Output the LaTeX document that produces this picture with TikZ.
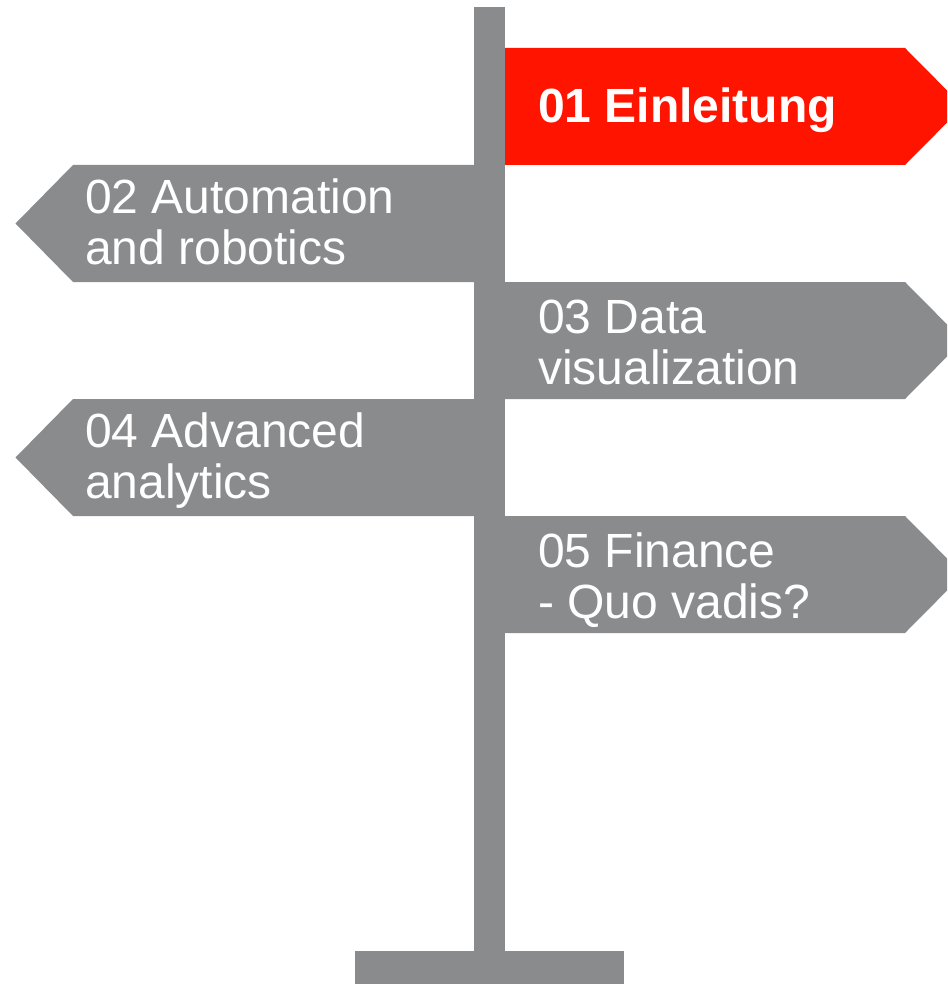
\documentclass[tikz,border=0pt]{standalone}
\usepackage{fontspec}
\setmainfont{Liberation Sans}
\definecolor{signgray}{HTML}{8A8B8D}
\definecolor{signred}{HTML}{FF1400}
\begin{document}
\begin{tikzpicture}[x=1pt,y=-1pt,
  signtext/.style={text=white, font=\fontsize{48}{51}\selectfont, align=left, inner sep=0pt, anchor=base west},
  rsign/.style={fill=signgray},
  lsign/.style={fill=signgray}]
\useasboundingbox (0,0) rectangle (947,984);
\clip (0,0) rectangle (947,984);
% post and base
\fill[signgray] (474,7) rectangle (505,952);
\fill[signgray] (355,951) rectangle (624,984);
% signs
\fill[signred] (505,48) -- (905,48) -- (963,106.5) -- (905,165) -- (505,165) -- cycle;
\fill[lsign] (474,165) -- (73,165) -- (15.5,223.5) -- (73,282) -- (474,282) -- cycle;
\fill[rsign] (505,282) -- (905,282) -- (963,340.5) -- (905,399) -- (505,399) -- cycle;
\fill[lsign] (474,399) -- (73,399) -- (15.5,457.5) -- (73,516) -- (474,516) -- cycle;
\fill[rsign] (505,516) -- (905,516) -- (963,574.5) -- (905,633) -- (505,633) -- cycle;
% texts (anchor = baseline of last line)
\node[signtext] (t1) at (538,123) {\bfseries 01 Einleitung};
\node[signtext] (t2) at (85,264) {02 Automation\\and robotics};
\node[signtext] (t3) at (538,384) {03 Data\\visualization};
\node[signtext] (t4) at (85,498) {04 Advanced\\analytics};
\node[signtext] (t5) at (538,618) {05 Finance\\- Quo vadis?};
\end{tikzpicture}
\end{document}
